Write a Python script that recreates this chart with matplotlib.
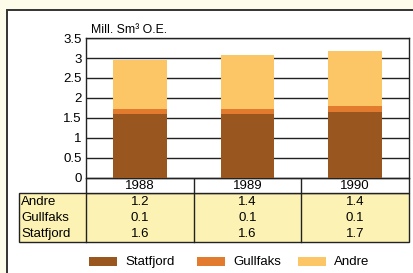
import matplotlib.pyplot as plt
from matplotlib.patches import Rectangle

plt.rcParams['font.family'] = ['Liberation Sans', 'DejaVu Sans']

years = ['1988', '1989', '1990']
statfjord = [1.6, 1.6, 1.66]
gullfaks = [0.13, 0.13, 0.14]
andre = [1.21, 1.35, 1.38]
row_names = ['Andre', 'Gullfaks', 'Statfjord']
row_text = [['1.2', '1.4', '1.4'], ['0.1', '0.1', '0.1'], ['1.6', '1.6', '1.7']]

c_stat = '#99561f'
c_gull = '#e37b2e'
c_andre = '#fcc565'
c_table = '#fcf2b4'
c_bg = '#fdfbea'

W, H = 414, 273
fig = plt.figure(figsize=(W / 100, H / 100), dpi=100)
fig.patch.set_facecolor(c_bg)

# background layer in pixel coords
bg = fig.add_axes([0, 0, 1, 1])
bg.set_xlim(0, W)
bg.set_ylim(H, 0)
bg.axis('off')
bg.add_patch(Rectangle((7, 10), W + 10, H, facecolor='white', edgecolor='#333333', lw=1.4))

# main chart
L, R, T, B = 86, 409, 38, 178
ax = fig.add_axes([L / W, 1 - B / H, (R - L) / W, (B - T) / H])
x = range(len(years))
ax.bar(x, statfjord, width=0.5, color=c_stat, zorder=3)
ax.bar(x, gullfaks, width=0.5, bottom=statfjord, color=c_gull, zorder=3)
bot3 = [s + g for s, g in zip(statfjord, gullfaks)]
ax.bar(x, andre, width=0.5, bottom=bot3, color=c_andre, zorder=3)
ax.set_xlim(-0.5, 2.5)
ax.set_ylim(0, 3.5)
ax.set_yticks([0, 0.5, 1, 1.5, 2, 2.5, 3, 3.5])
ax.set_yticklabels(['0', '0.5', '1', '1.5', '2', '2.5', '3', '3.5'], fontsize=9.5)
ax.set_xticks([])
ax.tick_params(axis='y', length=0, pad=3)
ax.grid(axis='y', color='#222222', lw=1.0, zorder=1)
for s in ax.spines.values():
    s.set_color('#222222')
    s.set_linewidth(1.0)
ax.set_facecolor('white')
ax.text(0.016, 1.015, 'Mill. Sm³ O.E.', transform=ax.transAxes, fontsize=8.8,
        ha='left', va='bottom')

# table below
hdr_top, hdr_bot = 178, 193
row_h = 16.3
tab_left = 19
colw = (R - L) / len(years)
tab_bot = hdr_bot + row_h * len(row_names)
bg.add_patch(Rectangle((tab_left, hdr_bot), R - tab_left, tab_bot - hdr_bot,
                       facecolor=c_table, edgecolor='#222222', lw=1.0, zorder=2))
bg.add_patch(Rectangle((L, hdr_top), R - L, hdr_bot - hdr_top,
                       facecolor='white', edgecolor='#222222', lw=1.0, zorder=2))
bg.plot([L, L], [hdr_bot, tab_bot], color='#222222', lw=1.0, zorder=3)
for i in range(1, len(years)):
    xx = L + colw * i
    bg.plot([xx, xx], [hdr_top, tab_bot], color='#222222', lw=1.0, zorder=3)
for i, yr in enumerate(years):
    bg.text(L + colw * (i + 0.5), (hdr_top + hdr_bot) / 2 + 0.5, yr,
            ha='center', va='center', fontsize=9.5, zorder=4)
for r, name in enumerate(row_names):
    yc = hdr_bot + row_h * (r + 0.5) + 0.5
    bg.text(tab_left + 2, yc, name, ha='left', va='center', fontsize=9.5, zorder=4)
    for i in range(len(years)):
        bg.text(L + colw * (i + 0.5), yc, row_text[r][i],
                ha='center', va='center', fontsize=9.5, zorder=4)

# legend
leg = [('Statfjord', c_stat, 89), ('Gullfaks', c_gull, 197), ('Andre', c_andre, 298)]
for name, col, lx in leg:
    bg.add_patch(Rectangle((lx, 257), 28, 9, facecolor=col, edgecolor='none', zorder=3))
    bg.text(lx + 36, 262, name, ha='left', va='center', fontsize=9.5, zorder=4)

fig.savefig('out.png', dpi=100, facecolor=c_bg)
